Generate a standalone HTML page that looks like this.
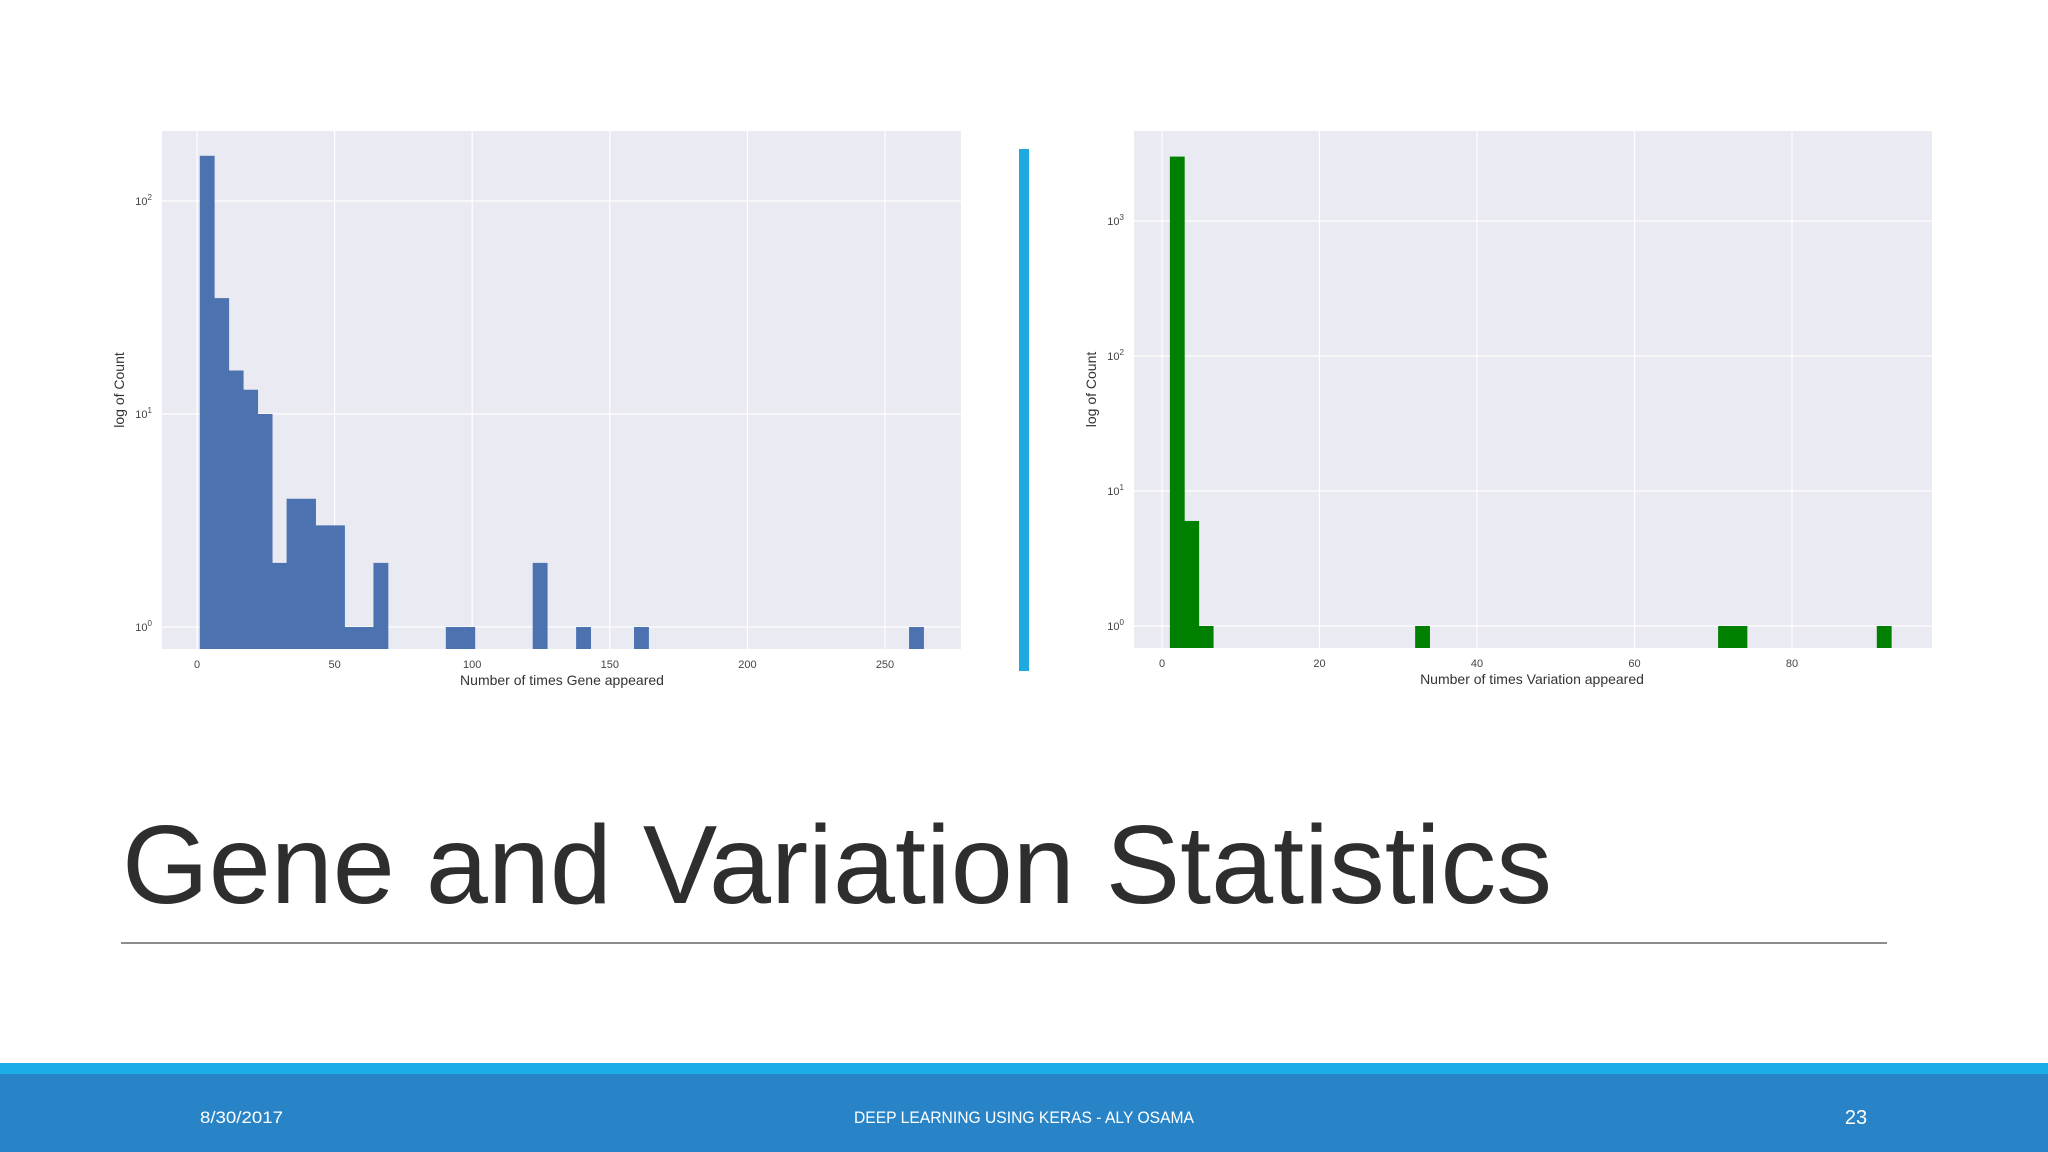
<!DOCTYPE html>
<html><head><meta charset="utf-8"><style>
html,body{margin:0;padding:0;background:#fff;}
svg{display:block;}
text{font-family:"Liberation Sans",sans-serif;}
</style></head><body>
<svg id="s" width="2048" height="1152" viewBox="0 0 2048 1152">
<rect x="0" y="0" width="2048" height="1152" fill="#ffffff"/>
<rect x="1019" y="149" width="10" height="522" fill="#1ea9e1"/>
<text x="122" y="903" font-size="111" fill="#2e2e2e" textLength="1430" lengthAdjust="spacingAndGlyphs">Gene and Variation Statistics</text>
<rect x="121" y="942" width="1766" height="2" fill="#8c8c8c"/>
<rect x="0" y="1063" width="2048" height="11" fill="#1aaee6"/>
<rect x="0" y="1074" width="2048" height="78" fill="#2884c6"/>
<text x="200" y="1123" font-size="17" fill="#fff" textLength="83" lengthAdjust="spacingAndGlyphs">8/30/2017</text>
<text x="854" y="1123" font-size="17" fill="#fff" textLength="340" lengthAdjust="spacingAndGlyphs">DEEP LEARNING USING KERAS - ALY OSAMA</text>
<text x="1856" y="1124" font-size="20" fill="#fff" text-anchor="middle">23</text>
<g id="g1"></g>
<g id="g2"></g>
</svg>
<script>
// Gene chart data
const geneCounts = [163,35,16,13,10,2,4,4,3,3,1,1,2,0,0,0,0,1,1,0,0,0,0,2,0,0,1,0,0,0,1,0,0,0,0,0,0,0,0,0,0,0,0,0,0,0,0,0,0,1];
const geneMin = 1, geneMax = 264;
const geneXTicks = [0,50,100,150,200,250];
const geneYTicks = [0,1,2];
// Variation chart data
const varCounts = [3000,6,1,0,0,0,0,0,0,0,0,0,0,0,0,0,0,1,0,0,0,0,0,0,0,0,0,0,0,0,0,0,0,0,0,0,0,0,1,1,0,0,0,0,0,0,0,0,0,1];
const varMin = 1, varMax = 92.6;
const varXTicks = [0,20,40,60,80];
const varYTicks = [0,1,2,3];

const NS = "http://www.w3.org/2000/svg";
function mk(parent, tag, attrs, txt){
  const e = document.createElementNS(NS, tag);
  for (const k in attrs) e.setAttribute(k, attrs[k]);
  if (txt !== undefined) e.textContent = txt;
  parent.appendChild(e); return e;
}
function chart(cfg){
  const g = document.getElementById(cfg.id);
  const X = v => cfg.x0 + (v - 0) * cfg.xs;
  const Y = v => cfg.y0 - Math.log10(v) * cfg.ys;
  const bg = mk(g,'rect',{x:cfg.L,y:cfg.T,width:cfg.R-cfg.L,height:cfg.B-cfg.T,fill:'#eaeaf2'});
  
  
  cfg.xt.forEach(t=>{
    const l = mk(g,'line',{x1:X(t),x2:X(t),y1:cfg.T,y2:cfg.B,stroke:'#fff','stroke-width':1.2});
    
    
    const tx = mk(g,'text',{x:X(t),y:cfg.B+19,'font-size':11,fill:'#444','text-anchor':'middle'}, String(t));
    
    
  });
  cfg.yt.forEach(p=>{
    const y = Y(Math.pow(10,p));
    const l = mk(g,'line',{x1:cfg.L,x2:cfg.R,y1:y,y2:y,stroke:'#fff','stroke-width':1.2});
    
    
    const tx = mk(g,'text',{x:cfg.L-10,y:y+4,'font-size':11,fill:'#444','text-anchor':'end'});
    
    
    mk(tx,'tspan',{},'10');
    mk(tx,'tspan',{'font-size':8,dy:-5},String(p));
  });
  const n = cfg.counts.length, w = (cfg.max - cfg.min)/n;
  cfg.counts.forEach((c,i)=>{
    if (c<=0) return;
    const x1 = X(cfg.min + i*w), x2 = X(cfg.min + (i+1)*w);
    const r = mk(g,'rect',{x:x1,y:Y(c),width:x2-x1+0.4,height:cfg.B-Y(c),fill:cfg.color});
    
    
  });
  const xl = mk(g,'text',{x:cfg.xlx,y:cfg.B+36,'font-size':14,fill:'#333','text-anchor':'middle'}, cfg.xlabel);
  
  
  const yl = mk(g,'text',{x:0,y:0,'font-size':14,fill:'#333','text-anchor':'middle',transform:`translate(${cfg.ylx},${(cfg.T+cfg.B)/2}) rotate(-90)`}, 'log of Count');
  
  
}
chart({id:'g1',L:162,R:961,T:131,B:649,x0:197,xs:688/250,y0:627,ys:213,counts:geneCounts,min:geneMin,max:geneMax,
  xt:geneXTicks,yt:geneYTicks,color:'#4c72b0',xlabel:'Number of times Gene appeared',xlx:562,ylx:124});
chart({id:'g2',L:1134,R:1932,T:131,B:648,x0:1162,xs:630/80,y0:626,ys:135,counts:varCounts,min:varMin,max:varMax,
  xt:varXTicks,yt:varYTicks,color:'#008000',xlabel:'Number of times Variation appeared',xlx:1532,ylx:1096});
</script>
</body></html>
